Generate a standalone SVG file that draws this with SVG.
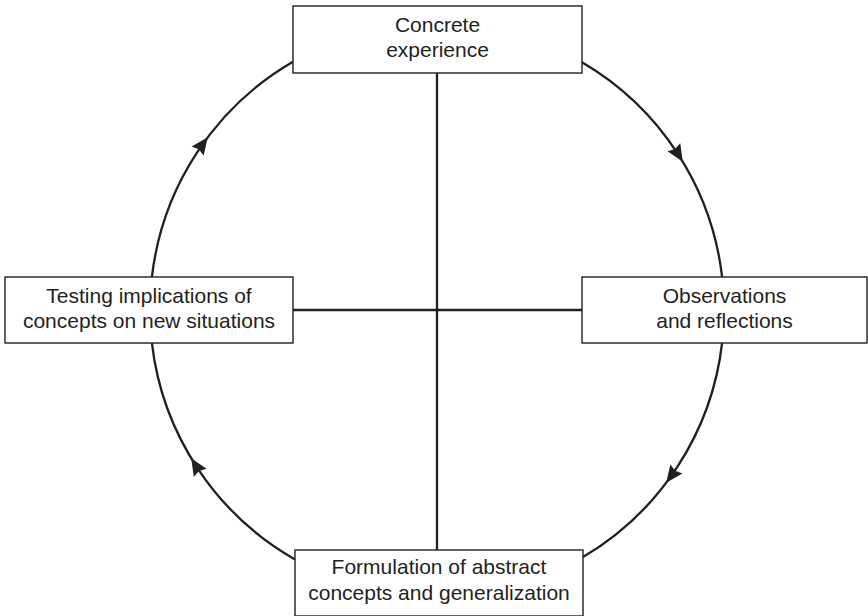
<svg xmlns="http://www.w3.org/2000/svg" xmlns:xlink="http://www.w3.org/1999/xlink" width="868" height="616" viewBox="0 0 868 616">
  <style>
    .box { fill: #ffffff; stroke: #231f20; stroke-width: 1.4; }
    .label { font-family: "Liberation Sans", Arial, Helvetica, sans-serif; font-size: 21px; fill: #231f20; text-anchor: middle; }
    .line { fill: none; stroke: #231f20; stroke-width: 2.3; }
    .head { fill: #231f20; }
  </style>
  <defs>
    <!-- arrowhead at angle 0 on the cycle (radius 287), pointing clockwise -->
    <polygon id="arrowhead" class="head" points="287,2 279.5,-15 287,-13 294.5,-15"/>
  </defs>

  <rect width="868" height="616" fill="#ffffff"/>

  <g id="connectors">
    <!-- cross lines through the centre -->
    <line class="line" x1="437" y1="73" x2="437" y2="550"/>
    <line class="line" x1="293" y1="310" x2="582" y2="310"/>
    <!-- learning cycle arcs, clockwise -->
    <path class="line" d="M582,62.3 A287,287 0 0 1 722.1,277"/>
    <path class="line" d="M722.1,343 A287,287 0 0 1 583,557.1"/>
    <path class="line" d="M295,559.4 A287,287 0 0 1 151.9,343"/>
    <path class="line" d="M151.9,277 A287,287 0 0 1 293,61.7"/>
    <use xlink:href="#arrowhead" transform="translate(437,310) rotate(-31.5)"/>
    <use xlink:href="#arrowhead" transform="translate(437,310) rotate(36.6)"/>
    <use xlink:href="#arrowhead" transform="translate(437,310) rotate(148.5)"/>
    <use xlink:href="#arrowhead" transform="translate(437,310) rotate(216.6)"/>
  </g>

  <g id="concrete-experience">
    <rect class="box" x="293" y="6" width="289" height="67"/>
    <text class="label" x="437.5" y="32">Concrete</text>
    <text class="label" x="437.5" y="57">experience</text>
  </g>

  <g id="observations-reflections">
    <rect class="box" x="582" y="277" width="285" height="66"/>
    <text class="label" x="724.5" y="303">Observations</text>
    <text class="label" x="724.5" y="328">and reflections</text>
  </g>

  <g id="abstract-concepts">
    <rect class="box" x="295" y="550" width="288" height="66"/>
    <text class="label" x="439" y="574">Formulation of abstract</text>
    <text class="label" x="439" y="600">concepts and generalization</text>
  </g>

  <g id="testing-implications">
    <rect class="box" x="5" y="277" width="288" height="66"/>
    <text class="label" x="149" y="303">Testing implications of</text>
    <text class="label" x="149" y="328">concepts on new situations</text>
  </g>
</svg>
